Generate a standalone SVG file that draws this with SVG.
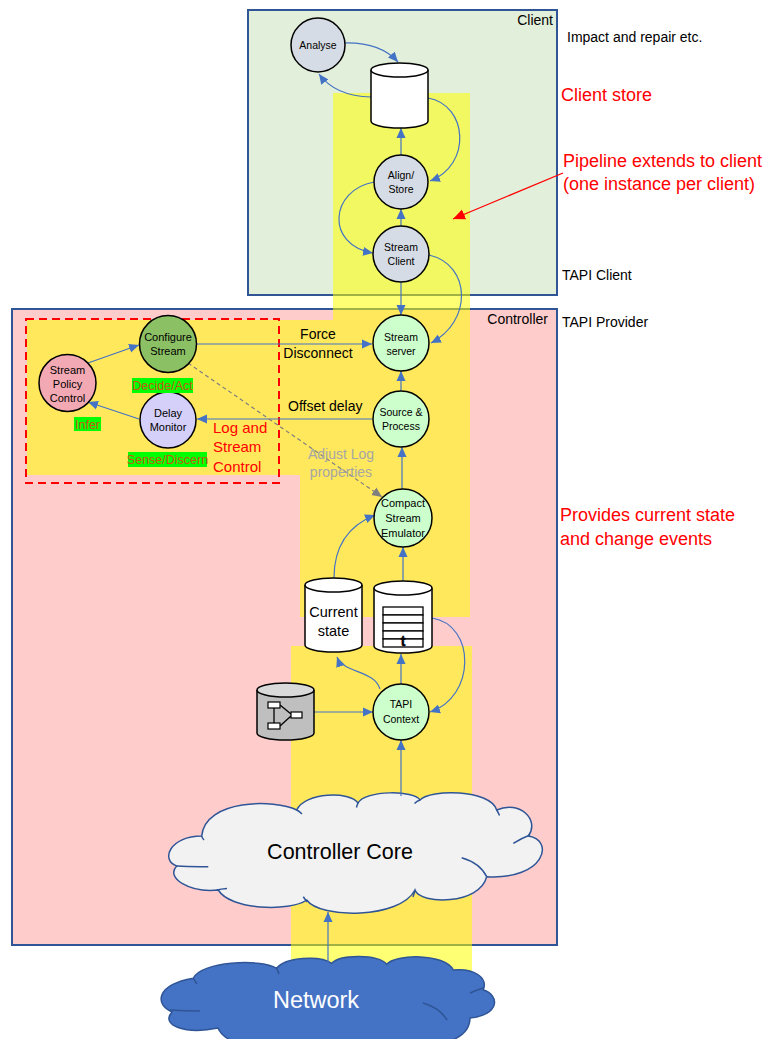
<svg xmlns="http://www.w3.org/2000/svg" width="770" height="1039" viewBox="0 0 770 1039">
<defs>
<style>
text{font-family:"Liberation Sans",Arial,sans-serif;}
.box{stroke:#2f5597;stroke-width:2;}
.nd{stroke:#000;stroke-width:1.5;}
.nl{font-size:10.5px;fill:#000;text-anchor:middle;}
.cy{fill:#fff;stroke:#000;stroke-width:1.5;}
.c{fill:none;stroke:#4472c4;stroke-width:1.2;marker-end:url(#ab);}
.red{fill:#ff0000;font-size:18px;}
.blk{fill:#000;font-size:14px;}
.gl{font-size:12.5px;fill:#c65911;text-anchor:middle;}
.cl{stroke:#2f5597;stroke-width:1.5;}
.ca{fill:none;stroke:#2f5597;stroke-width:1.5;}
</style>
<marker id="ab" viewBox="0 0 10 10" refX="10" refY="5" markerWidth="10" markerHeight="10" markerUnits="userSpaceOnUse" orient="auto"><path d="M0,0.5 L10,5 L0,9.5 Z" fill="#4472c4"/></marker>
<marker id="ag" viewBox="0 0 10 10" refX="10" refY="5" markerWidth="10" markerHeight="10" markerUnits="userSpaceOnUse" orient="auto"><path d="M0,0.5 L10,5 L0,9.5 Z" fill="#7f7f7f"/></marker>
<marker id="ar" viewBox="0 0 10 10" refX="10" refY="5" markerWidth="12" markerHeight="12" markerUnits="userSpaceOnUse" orient="auto"><path d="M0,0.5 L10,5 L0,9.5 Z" fill="#ff0000"/></marker>
</defs>

<g id="client-box">
<rect class="box" x="248" y="10" width="309" height="285" fill="#e2efda"/>
</g>
<g id="controller-box">
<rect class="box" x="12" y="309" width="545" height="636" fill="#ffcccc"/>
</g>

<g id="pipeline">
<path d="M333,93 H470 V617 H300 V475 H27 V320 H333 Z" fill="#ffff00" fill-opacity="0.55"/>
<path d="M291,646 H472 V980 H291 Z" fill="#ffff00" fill-opacity="0.55"/>
</g>

<g id="log-stream-control-box">
<rect x="26" y="319" width="253" height="164" fill="none" stroke="#ff0000" stroke-width="2" stroke-dasharray="8,5"/>
</g>

<g id="controller-core">
<path class="cl" fill="#f2f2f2" d="M201.7,836 C170,836 160,860 176.7,866 C165,878 190,893 218.3,890 C230,910 290,912 306.7,900 C320,919 400,919 415,890 C420,905 480,905 486.7,876.7 C545,880 555,840 528.3,836 C540,820 520,800 496.7,810 C490,789 430,789 420,800 C415,790 365,790 358,803 C350,791 305,792 296.7,810 C275,799 205,799 201.7,836 Z"/>
<path class="ca" d="M201.7,836 Q202,838 204,840 M296.7,810 Q299,811 302,814 M358,803 Q357,805 356.5,807.5 M420,800 Q417,801 414.5,803.5 M496.7,810 Q498,812 499.5,815.5 M513.3,843.3 Q522,838 530,835 M461.7,857.7 Q480,863 486.7,876.7 M415,890 Q414.5,893 413,897 M303.3,896.7 Q305,899 307,902 M216.7,890 Q221,889 227,888.5 M176.7,866 Q190,867 208.3,866.7"/>
<text x="340" y="859" style="font-size:21.5px;fill:#000;text-anchor:middle">Controller Core</text>
</g>

<g id="network">
<path class="cl" fill="#4472c4" d="M193.3,978.3 C200,962 260,958 276.7,968.3 C285,957 320,955 331.7,963.3 C340,954 378,954 386.7,964.3 C395,954 445,953 453.3,970 C475,968 488,978 483.3,990 C500,995 500,1015 470,1018 C470,1045 420,1050 400,1045 C380,1060 300,1060 283,1045 C260,1050 225,1045 218,1028 C185,1035 160,1025 172,1012 C155,1005 155,985 193.3,978.3 Z"/>
<path class="ca" d="M193.3,978.3 Q195,981 197,984 M276.7,968.3 Q278,971 279,974 M470,993 Q477,990 483.3,988 M423,1003 Q440,1008 447,1020 M170,1010 Q185,1011 200,1011"/>
<text x="316" y="1008" style="font-size:23.5px;fill:#fff;text-anchor:middle">Network</text>
</g>

<g id="connectors">
<path class="c" d="M344,43 Q380,42 398,62"/>
<path class="c" d="M371,97 Q335,96 319,74"/>
<path class="c" d="M428,98 C468,105 472,165 430,181"/>
<path class="c" d="M401,155 L401,128"/>
<path class="c" d="M401,226 L401,209"/>
<path class="c" d="M374,182 C330,190 325,245 373,253"/>
<path class="c" d="M401,282 L401,315"/>
<path class="c" d="M429,255 C472,265 472,322 431,343"/>
<path class="c" d="M401,391 L401,371"/>
<path class="c" d="M402,489 L402,447"/>
<path class="c" d="M403,581 L403,547"/>
<path class="c" d="M334,578 C334,545 350,525 375,515"/>
<path class="c" d="M380,689 C374,670 343,673 337,657"/>
<path class="c" d="M401,684 L401,654"/>
<path class="c" d="M432,618 C476,625 476,697 430,712"/>
<path class="c" d="M314,712 L373,712"/>
<path class="c" d="M401,796 L401,740"/>
<path class="c" d="M328,963 L328,912"/>
<path class="c" d="M197,344 L372,344"/>
<path class="c" d="M372,419 L197,419"/>
<path class="c" d="M88,363 L139,345"/>
<path class="c" d="M139,419 L88,402"/>
<path d="M188,363 L382,497" fill="none" stroke="#7f7f7f" stroke-width="1.2" stroke-dasharray="4,3" marker-end="url(#ag)"/>
<path d="M563,173 L453,219" fill="none" stroke="#ff0000" stroke-width="1.2" marker-end="url(#ar)"/>
</g>

<g id="analyse">
<circle class="nd" cx="318" cy="45" r="27" fill="#d6dce5"/>
<text class="nl" x="318" y="49">Analyse</text>
</g>
<g id="client-store">
<path class="cy" d="M371,70 V121 A28.5,7 0 0 0 428,121 V70"/>
<ellipse class="cy" cx="399.5" cy="70" rx="28.5" ry="7"/>
</g>
<g id="align-store">
<circle class="nd" cx="401" cy="182" r="27" fill="#d6dce5"/>
<text class="nl" x="401" y="178.5">Align/</text>
<text class="nl" x="401" y="192.5">Store</text>
</g>
<g id="stream-client">
<circle class="nd" cx="401" cy="254" r="28" fill="#d6dce5"/>
<text class="nl" x="401" y="250.5">Stream</text>
<text class="nl" x="401" y="264.5">Client</text>
</g>
<g id="stream-server">
<circle class="nd" cx="401" cy="343" r="28" fill="#ccffcc"/>
<text class="nl" x="401" y="340.5">Stream</text>
<text class="nl" x="401" y="354.5">server</text>
</g>
<g id="source-process">
<circle class="nd" cx="401" cy="419" r="28" fill="#ccffcc"/>
<text class="nl" x="401" y="415.5">Source &amp;</text>
<text class="nl" x="401" y="429.5">Process</text>
</g>
<g id="compact-stream-emulator">
<circle class="nd" cx="403" cy="518" r="29" fill="#ccffcc"/>
<text class="nl" x="403" y="507" style="font-size:11px">Compact</text>
<text class="nl" x="403" y="522" style="font-size:11px">Stream</text>
<text class="nl" x="403" y="536.5" style="font-size:11px">Emulator</text>
</g>
<g id="current-state">
<path class="cy" d="M305,585 V645 A28.5,7 0 0 0 362,645 V585"/>
<ellipse class="cy" cx="333.5" cy="585" rx="28.5" ry="7"/>
<text x="333.5" y="617" style="font-size:14.5px;fill:#000;text-anchor:middle">Current</text>
<text x="333.5" y="636" style="font-size:14.5px;fill:#000;text-anchor:middle">state</text>
</g>
<g id="event-log">
<path class="cy" d="M374,588 V646 A29,7 0 0 0 432,646 V588"/>
<ellipse class="cy" cx="403" cy="588" rx="29" ry="7"/>
<g fill="#fff" stroke="#000" stroke-width="1.3">
<rect x="383" y="607" width="40" height="8"/>
<rect x="383" y="615" width="40" height="8"/>
<rect x="383" y="623" width="40" height="8"/>
<rect x="383" y="631" width="40" height="8"/>
<rect x="383" y="639" width="40" height="8"/>
</g>
<text x="403" y="646" style="font-size:14px;font-weight:bold;fill:#000;stroke:#000;stroke-width:0.5;text-anchor:middle">t</text>
</g>
<g id="topology-store">
<path d="M257,690 V733 A28.5,7 0 0 0 314,733 V690" fill="#bfbfbf" stroke="#000" stroke-width="1.5"/>
<ellipse cx="285.5" cy="690" rx="28.5" ry="7" fill="#d9d9d9" stroke="#000" stroke-width="1.5"/>
<g stroke="#000" stroke-width="1.3">
<line x1="274" y1="708" x2="274" y2="723"/>
<line x1="280" y1="705" x2="291" y2="714"/>
<line x1="280" y1="726" x2="291" y2="716"/>
</g>
<g fill="#fff" stroke="#000" stroke-width="1.2">
<rect x="268" y="702" width="12" height="6"/>
<rect x="291" y="712" width="11" height="6"/>
<rect x="268" y="723" width="12" height="6"/>
</g>
</g>
<g id="tapi-context">
<circle class="nd" cx="401" cy="712" r="28" fill="#ccffcc"/>
<text class="nl" x="401" y="708">TAPI</text>
<text class="nl" x="401" y="723">Context</text>
</g>
<g id="configure-stream">
<circle class="nd" cx="168" cy="344" r="28.5" fill="#8cc064"/>
<text class="nl" x="168" y="341" style="font-size:11px">Configure</text>
<text class="nl" x="168" y="355" style="font-size:11px">Stream</text>
</g>
<g id="stream-policy-control">
<circle class="nd" cx="67.5" cy="383" r="28.5" fill="#f3a9b3"/>
<text class="nl" x="67.5" y="374" style="font-size:11px">Stream</text>
<text class="nl" x="67.5" y="388" style="font-size:11px">Policy</text>
<text class="nl" x="67.5" y="402" style="font-size:11px">Control</text>
</g>
<g id="delay-monitor">
<circle class="nd" cx="168" cy="420" r="28" fill="#d5d0f9"/>
<text class="nl" x="168" y="417" style="font-size:11px">Delay</text>
<text class="nl" x="168" y="431" style="font-size:11px">Monitor</text>
</g>

<g id="labels">
<rect x="132" y="378" width="61" height="15" fill="#00ff00"/>
<text class="gl" x="162.5" y="390">Decide/Act</text>
<rect x="74" y="417" width="27" height="14" fill="#00ff00"/>
<text class="gl" x="87.5" y="428.5">Infer</text>
<rect x="128" y="452" width="79" height="15" fill="#00ff00"/>
<text class="gl" x="167.5" y="464">Sense/Discern</text>
<text x="213" y="433" style="font-size:15px;fill:#ff0000">Log and</text>
<text x="213" y="452" style="font-size:15px;fill:#ff0000">Stream</text>
<text x="213" y="472" style="font-size:15px;fill:#ff0000">Control</text>
<text class="blk" x="318" y="339" text-anchor="middle">Force</text>
<text class="blk" x="318" y="358" text-anchor="middle">Disconnect</text>
<text class="blk" x="288" y="411">Offset delay</text>
<text x="341" y="459" style="font-size:14px;fill:#a6a6a6;text-anchor:middle">Adjust Log</text>
<text x="341" y="477" style="font-size:14px;fill:#a6a6a6;text-anchor:middle">properties</text>
<text class="blk" x="553" y="25" text-anchor="end">Client</text>
<text class="blk" x="567" y="42">Impact and repair etc.</text>
<text class="red" x="561" y="101">Client store</text>
<text class="red" x="563" y="167">Pipeline extends to client</text>
<text class="red" x="563" y="190">(one instance per client)</text>
<text class="blk" x="562" y="280">TAPI Client</text>
<text class="blk" x="548" y="324" text-anchor="end">Controller</text>
<text class="blk" x="562" y="327">TAPI Provider</text>
<text class="red" x="560" y="521">Provides current state</text>
<text class="red" x="560" y="545">and change events</text>
</g>
</svg>
